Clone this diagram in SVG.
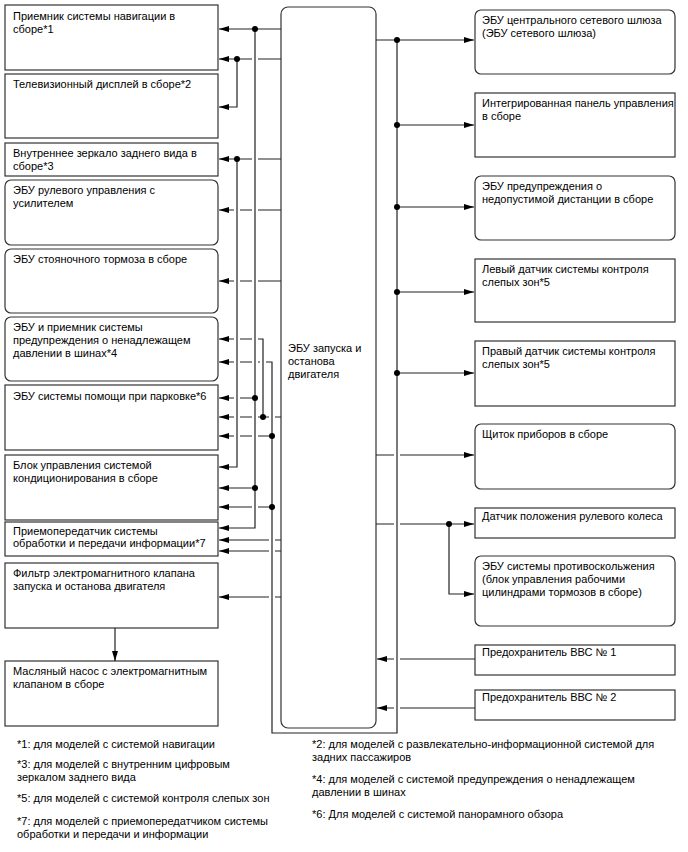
<svg xmlns="http://www.w3.org/2000/svg" width="688" height="852" viewBox="0 0 688 852">
<defs>
<style>
.box{fill:#fff;stroke:#333;stroke-width:1.2}
.t{font-family:"Liberation Sans",Arial,sans-serif;font-size:11px;fill:#000}
.ln{fill:none;stroke:#222;stroke-width:1.2}
.ar{marker-end:url(#ah)}
.dot{fill:#000}
</style>
<marker id="ah" viewBox="0 0 10 6" refX="10" refY="3" markerWidth="10" markerHeight="6" markerUnits="userSpaceOnUse" orient="auto"><path d="M0,0 L10,3 L0,6 z" fill="#000"/></marker>
</defs>
<rect width="688" height="852" fill="#fff"/>

<g id="n-nav"><rect class="box" x="5" y="5" width="213" height="65"/><text class="t" x="13" y="20">Приемник системы навигации в</text><text class="t" x="13" y="33">сборе*1</text></g>
<g id="n-tv"><rect class="box" x="5" y="74" width="213" height="64"/><text class="t" x="13" y="88">Телевизионный дисплей в сборе*2</text></g>
<g id="n-mirror"><rect class="box" x="5" y="143" width="213" height="33"/><text class="t" x="13" y="157">Внутреннее зеркало заднего вида в</text><text class="t" x="13" y="170">сборе*3</text></g>
<g id="n-eps"><rect class="box" x="5" y="180" width="213" height="65" rx="6"/><text class="t" x="13" y="194">ЭБУ рулевого управления с</text><text class="t" x="13" y="207">усилителем</text></g>
<g id="n-epb"><rect class="box" x="5" y="249" width="213" height="64" rx="6"/><text class="t" x="13" y="263">ЭБУ стояночного тормоза в сборе</text></g>
<g id="n-tpms"><rect class="box" x="5" y="317" width="213" height="64" rx="6"/><text class="t" x="13" y="331">ЭБУ и приемник системы</text><text class="t" x="13" y="344">предупреждения о ненадлежащем</text><text class="t" x="13" y="357">давлении в шинах*4</text></g>
<g id="n-park"><rect class="box" x="5" y="385" width="213" height="65"/><text class="t" x="13" y="400">ЭБУ системы помощи при парковке*6</text></g>
<g id="n-ac"><rect class="box" x="5" y="455" width="213" height="65"/><text class="t" x="13" y="469">Блок управления системой</text><text class="t" x="13" y="482">кондиционирования в сборе</text></g>
<g id="n-dcm"><rect class="box" x="5" y="522" width="213" height="34"/><text class="t" x="13" y="535">Приемопередатчик системы</text><text class="t" x="13" y="547">обработки и передачи информации*7</text></g>
<g id="n-filter"><rect class="box" x="5" y="563" width="213" height="65"/><text class="t" x="13" y="577">Фильтр электромагнитного клапана</text><text class="t" x="13" y="590">запуска и останова двигателя</text></g>
<g id="n-pump"><rect class="box" x="5" y="661" width="213" height="65"/><text class="t" x="13" y="675">Масляный насос с электромагнитным</text><text class="t" x="13" y="688">клапаном в сборе</text></g>

<g id="n-ecu"><rect class="box" x="281" y="7" width="95" height="721" rx="7"/><text class="t" x="288" y="352">ЭБУ запуска и</text><text class="t" x="288" y="365">останова</text><text class="t" x="288" y="378">двигателя</text></g>

<g id="n-gw"><rect class="box" x="475" y="10" width="200" height="64" rx="6"/><text class="t" x="482" y="24">ЭБУ центрального сетевого шлюза</text><text class="t" x="482" y="37">(ЭБУ сетевого шлюза)</text></g>
<g id="n-panel"><rect class="box" x="475" y="93" width="200" height="64"/><text class="t" x="482" y="107">Интегрированная панель управления</text><text class="t" x="482" y="120">в сборе</text></g>
<g id="n-dist"><rect class="box" x="475" y="176" width="200" height="64" rx="6"/><text class="t" x="482" y="190">ЭБУ предупреждения о</text><text class="t" x="482" y="203">недопустимой дистанции в сборе</text></g>
<g id="n-bsml"><rect class="box" x="475" y="259" width="200" height="63"/><text class="t" x="482" y="273">Левый датчик системы контроля</text><text class="t" x="482" y="286">слепых зон*5</text></g>
<g id="n-bsmr"><rect class="box" x="475" y="341" width="200" height="65"/><text class="t" x="482" y="355">Правый датчик системы контроля</text><text class="t" x="482" y="368">слепых зон*5</text></g>
<g id="n-meter"><rect class="box" x="475" y="424" width="200" height="65" rx="6"/><text class="t" x="482" y="438">Щиток приборов в сборе</text></g>
<g id="n-sas"><rect class="box" x="475" y="508" width="200" height="30"/><text class="t" x="482" y="520">Датчик положения рулевого колеса</text></g>
<g id="n-abs"><rect class="box" x="475" y="556" width="200" height="70" rx="6"/><text class="t" x="482" y="570">ЭБУ системы противоскольжения</text><text class="t" x="482" y="583">(блок управления рабочими</text><text class="t" x="482" y="596">цилиндрами тормозов в сборе)</text></g>
<g id="n-fuse1"><rect class="box" x="475" y="645" width="200" height="30"/><text class="t" x="482" y="656">Предохранитель ВВС № 1</text></g>
<g id="n-fuse2"><rect class="box" x="475" y="690" width="200" height="30"/><text class="t" x="482" y="701">Предохранитель ВВС № 2</text></g>

<g id="connectors">
<path class="ln ar" d="M281,29 H219"/>
<path class="ln ar" d="M281,59 H258 M252,59 H219"/>
<path class="ln ar" d="M237,59 V107 H219"/>
<path class="ln ar" d="M281,159 H258 M252,159 H219"/>
<path class="ln ar" d="M237,159 V467 H219"/>
<path class="ln ar" d="M255,29 V528 H219"/>
<path class="ln ar" d="M281,210 H258 M252,210 H240 M234,210 H219"/>
<path class="ln ar" d="M281,281 H258 M252,281 H240 M234,281 H219"/>
<path class="ln ar" d="M263,417 V339 H258 M252,339 H240 M234,339 H219"/>
<path class="ln ar" d="M397,40 V733 H272 V362 H266 M260,362 H258 M252,362 H240 M234,362 H219"/>
<path class="ln ar" d="M255,398 H240 M234,398 H219"/>
<path class="ln ar" d="M281,417 H275 M269,417 H258 M252,417 H240 M234,417 H219"/>
<path class="ln ar" d="M272,436 H258 M252,436 H240 M234,436 H219"/>
<path class="ln ar" d="M255,488 H219"/>
<path class="ln ar" d="M272,507 H258 M252,507 H219"/>
<path class="ln ar" d="M281,540 H275 M269,540 H219"/>
<path class="ln ar" d="M281,551 H275 M269,551 H219"/>
<path class="ln ar" d="M281,597 H275 M269,597 H219"/>
<path class="ln ar" d="M115,628 V661"/>
<path class="ln ar" d="M376,40 H474"/>
<path class="ln ar" d="M397,125 H474"/>
<path class="ln ar" d="M397,207 H474"/>
<path class="ln ar" d="M397,292 H474"/>
<path class="ln ar" d="M397,373 H474"/>
<path class="ln ar" d="M376,455 H394 M400,455 H474"/>
<path class="ln ar" d="M376,524 H394 M400,524 H474"/>
<path class="ln ar" d="M449,524 V594 H474"/>
<path class="ln ar" d="M475,659 H400 M394,659 H377"/>
<path class="ln ar" d="M475,708 H400 M394,708 H377"/>
<circle class="dot" cx="255" cy="29" r="3"/>
<circle class="dot" cx="237" cy="59" r="3"/>
<circle class="dot" cx="237" cy="159" r="3"/>
<circle class="dot" cx="255" cy="398" r="3"/>
<circle class="dot" cx="263" cy="417" r="3"/>
<circle class="dot" cx="272" cy="436" r="3"/>
<circle class="dot" cx="255" cy="488" r="3"/>
<circle class="dot" cx="272" cy="507" r="3"/>
<circle class="dot" cx="397" cy="40" r="3"/>
<circle class="dot" cx="397" cy="125" r="3"/>
<circle class="dot" cx="397" cy="207" r="3"/>
<circle class="dot" cx="397" cy="292" r="3"/>
<circle class="dot" cx="397" cy="373" r="3"/>
<circle class="dot" cx="449" cy="524" r="3"/>
</g>

<g id="notes">
<text class="t" x="17" y="748">*1: для моделей с системой навигации</text>
<text class="t" x="17" y="768">*3: для моделей с внутренним цифровым</text>
<text class="t" x="17" y="781">зеркалом заднего вида</text>
<text class="t" x="17" y="802">*5: для моделей с системой контроля слепых зон</text>
<text class="t" x="17" y="825">*7: для моделей с приемопередатчиком системы</text>
<text class="t" x="17" y="838">обработки и передачи и информации</text>
<text class="t" x="312" y="748">*2: для моделей с развлекательно-информационной системой для</text>
<text class="t" x="312" y="761">задних пассажиров</text>
<text class="t" x="312" y="783">*4: для моделей с системой предупреждения о ненадлежащем</text>
<text class="t" x="312" y="796">давлении в шинах</text>
<text class="t" x="312" y="818">*6: Для моделей с системой панорамного обзора</text>
</g>
</svg>
